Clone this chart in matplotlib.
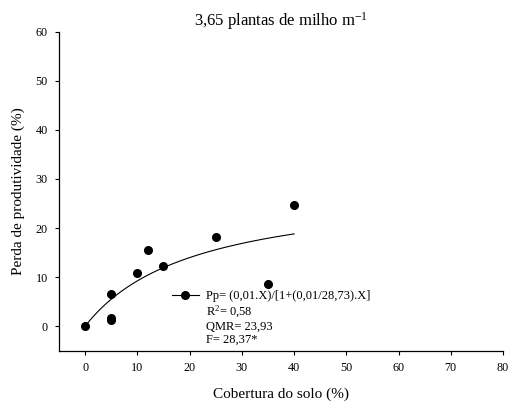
import numpy as np
import matplotlib
matplotlib.use("Agg")
import matplotlib.pyplot as plt
from matplotlib.lines import Line2D

plt.rcParams["font.family"] = ["Liberation Serif", "DejaVu Serif"]
plt.rcParams["mathtext.default"] = "regular"

# observed yield loss vs. soil cover
cobertura = [0, 5, 5, 5, 10, 12, 15, 25, 35, 40]
perda     = [0.1, 6.5, 1.7, 1.3, 10.8, 15.5, 12.2, 18.1, 8.5, 24.7]

# rectangular hyperbola fit: Pp = I*X / (1 + I*X/A)
I_FIT = 1.36
A_FIT = 28.73
X_MAX = 40

legend_lines = ["Pp= (0,01.X)/[1+(0,01/28,73).X]",
                "R$^2$= 0,58",
                "QMR= 23,93",
                "F= 28,37*"]

xticks = np.arange(0, 81, 10)
yticks = np.arange(0, 61, 10)

fig = plt.figure(figsize=(5.08, 4.05), dpi=100)
ax = fig.add_axes([59 / 508, 1 - 350.7 / 405, (503 - 59) / 508, (350.7 - 31.7) / 405])

xf = np.linspace(0, X_MAX, 200)
yf = I_FIT * xf / (1 + I_FIT * xf / A_FIT)
ax.plot(xf, yf, color="black", lw=0.8)
ax.plot(cobertura, perda, "o", color="black", ms=5.5, clip_on=False)

ax.set_xlim(-5, 80)
ax.set_ylim(-5, 60)
ax.set_xticks(xticks)
ax.set_yticks(yticks)
for s in ("top", "right"):
    ax.spines[s].set_visible(False)
for s in ("left", "bottom"):
    ax.spines[s].set_linewidth(0.9)
ax.tick_params(direction="out", length=3, width=0.8, labelsize=8.7, pad=5)

ax.set_xlabel("Cobertura do solo (%)", fontsize=11, labelpad=10)
ax.set_ylabel("Perda de produtividade (%)", fontsize=11, labelpad=8)
ax.set_title("3,65 plantas de milho m$^{-1}$", fontsize=12, pad=-1)

handles = [Line2D([], [], color="black", lw=0.8, marker="o", ms=5.5)]
handles += [Line2D([], [], linestyle="none") for _ in legend_lines[1:]]
ax.legend(handles, legend_lines, loc="upper left", bbox_to_anchor=(16.6, 7.3),
          bbox_transform=ax.transData, frameon=False, fontsize=9,
          handlelength=2.15, handletextpad=0.55, labelspacing=0.1,
          borderpad=0, borderaxespad=0)

fig.savefig("out.png", dpi=100)
